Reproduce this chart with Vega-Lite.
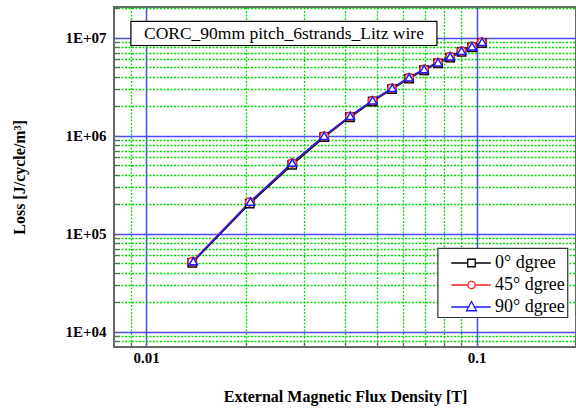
{
  "$schema": "https://vega.github.io/schema/vega-lite/v6.json",
  "width": 462,
  "height": 340,
  "autosize": {"type": "none"},
  "padding": {"left": 114, "top": 7, "right": 0, "bottom": 61},
  "background": "white",
  "config": {
    "view": {"stroke": "#666666", "strokeWidth": 2},
    "font": "Liberation Serif"
  },
  "datasets": {
    "loss": [
      {"series": "0° dgree", "x": 0.0138, "y": 50500},
      {"series": "0° dgree", "x": 0.0206, "y": 203000},
      {"series": "0° dgree", "x": 0.0277, "y": 505000},
      {"series": "0° dgree", "x": 0.0346, "y": 965000},
      {"series": "0° dgree", "x": 0.0414, "y": 1540000},
      {"series": "0° dgree", "x": 0.0485, "y": 2230000},
      {"series": "0° dgree", "x": 0.0555, "y": 2980000},
      {"series": "0° dgree", "x": 0.0625, "y": 3820000},
      {"series": "0° dgree", "x": 0.0694, "y": 4650000},
      {"series": "0° dgree", "x": 0.0765, "y": 5450000},
      {"series": "0° dgree", "x": 0.0832, "y": 6250000},
      {"series": "0° dgree", "x": 0.0901, "y": 7150000},
      {"series": "0° dgree", "x": 0.0969, "y": 7950000},
      {"series": "0° dgree", "x": 0.1038, "y": 8800000},
      {"series": "45° dgree", "x": 0.0138, "y": 52000},
      {"series": "45° dgree", "x": 0.0206, "y": 210000},
      {"series": "45° dgree", "x": 0.0277, "y": 525000},
      {"series": "45° dgree", "x": 0.0346, "y": 985000},
      {"series": "45° dgree", "x": 0.0414, "y": 1570000},
      {"series": "45° dgree", "x": 0.0485, "y": 2270000},
      {"series": "45° dgree", "x": 0.0555, "y": 3040000},
      {"series": "45° dgree", "x": 0.0625, "y": 3890000},
      {"series": "45° dgree", "x": 0.0694, "y": 4730000},
      {"series": "45° dgree", "x": 0.0765, "y": 5560000},
      {"series": "45° dgree", "x": 0.0832, "y": 6370000},
      {"series": "45° dgree", "x": 0.0901, "y": 7280000},
      {"series": "45° dgree", "x": 0.0969, "y": 8100000},
      {"series": "45° dgree", "x": 0.1038, "y": 9000000},
      {"series": "90° dgree", "x": 0.0139, "y": 52500},
      {"series": "90° dgree", "x": 0.0207, "y": 213000},
      {"series": "90° dgree", "x": 0.0277, "y": 530000},
      {"series": "90° dgree", "x": 0.0346, "y": 995000},
      {"series": "90° dgree", "x": 0.0415, "y": 1590000},
      {"series": "90° dgree", "x": 0.0485, "y": 2290000},
      {"series": "90° dgree", "x": 0.0556, "y": 3070000},
      {"series": "90° dgree", "x": 0.0625, "y": 3920000},
      {"series": "90° dgree", "x": 0.0694, "y": 4770000},
      {"series": "90° dgree", "x": 0.0765, "y": 5600000},
      {"series": "90° dgree", "x": 0.0832, "y": 6420000},
      {"series": "90° dgree", "x": 0.0901, "y": 7330000},
      {"series": "90° dgree", "x": 0.0969, "y": 8150000},
      {"series": "90° dgree", "x": 0.104, "y": 9050000}
    ],
    "box": [
      {"x": 0.009, "x2": 0.0759, "y": 8300000, "y2": 14600000}
    ],
    "legendbox": [
      {"x": 0.0764, "x2": 0.1888, "y": 14000, "y2": 70800}
    ],
    "label": [
      {"x": 0.02614, "y": 11000000, "text": "CORC_90mm pitch_6strands_Litz wire"}
    ]
  },
  "encoding": {
    "x": {
      "field": "x",
      "type": "quantitative",
      "title": "External Magnetic Flux Density [T]",
      "scale": {"type": "log", "domain": [0.008, 0.2], "nice": false},
      "axis": {
        "values": [0.009, 0.01, 0.02, 0.03, 0.04, 0.05, 0.06, 0.07, 0.08, 0.09, 0.1, 0.2],
        "labelExpr": "datum.value == 0.01 ? '0.01' : (datum.value == 0.1 ? '0.1' : '')",
        "domain": false,
        "grid": true,
        "gridColor": {"condition": {"test": "datum.value == 0.01 || datum.value == 0.1", "value": "#4a4aff"}, "value": "#00dd00"},
        "gridDash": {"condition": {"test": "datum.value == 0.01 || datum.value == 0.1", "value": []}, "value": [2, 1.5]},
        "gridWidth": {"condition": {"test": "datum.value == 0.01 || datum.value == 0.1", "value": 1.5}, "value": 1.3},
        "gridOpacity": 1,
        "ticks": true,
        "tickSize": -5,
        "tickWidth": 1.2,
        "tickColor": "#666666",
        "labelPadding": 8,
        "labelFont": "Liberation Serif",
        "labelFontWeight": "bold",
        "labelFontSize": 15,
        "labelColor": "black",
        "labelFlush": false,
        "labelOverlap": false,
        "titleFont": "Liberation Serif",
        "titleFontWeight": "bold",
        "titleFontSize": 16,
        "titleColor": "black",
        "titlePadding": 23
      }
    },
    "y": {
      "field": "y",
      "type": "quantitative",
      "title": "Loss [J/cycle/m³]",
      "scale": {"type": "log", "domain": [7000, 20500000], "nice": false},
      "axis": {
        "values": [8000, 9000, 10000, 20000, 30000, 40000, 50000, 60000, 70000, 80000, 90000, 100000, 200000, 300000, 400000, 500000, 600000, 700000, 800000, 900000, 1000000, 2000000, 3000000, 4000000, 5000000, 6000000, 7000000, 8000000, 9000000, 10000000, 20000000],
        "labelExpr": "abs(log(datum.value)/LN10 - round(log(datum.value)/LN10)) < 0.001 ? '1E+0' + round(log(datum.value)/LN10) : ''",
        "domain": false,
        "grid": true,
        "gridColor": {"condition": {"test": "abs(log(datum.value)/LN10 - round(log(datum.value)/LN10)) < 0.001", "value": "#4a4aff"}, "value": "#00dd00"},
        "gridDash": {"condition": {"test": "abs(log(datum.value)/LN10 - round(log(datum.value)/LN10)) < 0.001", "value": []}, "value": [2, 1.5]},
        "gridWidth": {"condition": {"test": "abs(log(datum.value)/LN10 - round(log(datum.value)/LN10)) < 0.001", "value": 1.5}, "value": 1.3},
        "gridOpacity": 1,
        "ticks": true,
        "tickSize": -5,
        "tickWidth": 1.2,
        "tickColor": "#666666",
        "labelPadding": 13,
        "labelFont": "Liberation Serif",
        "labelFontWeight": "bold",
        "labelFontSize": 15,
        "labelColor": "black",
        "labelFlush": false,
        "labelOverlap": false,
        "titleFont": "Liberation Serif",
        "titleFontWeight": "bold",
        "titleFontSize": 16,
        "titleColor": "black",
        "titlePadding": 37
      }
    }
  },
  "layer": [
    {
      "data": {"name": "loss"},
      "mark": {"type": "line", "strokeWidth": 1.5},
      "encoding": {
        "stroke": {
          "field": "series",
          "type": "nominal",
          "scale": {"domain": ["0° dgree", "45° dgree", "90° dgree"], "range": ["#000000", "#ff2020", "#1a1aff"]},
          "legend": null
        }
      }
    },
    {
      "data": {"name": "loss"},
      "transform": [{"filter": "datum.series === '0° dgree'"}],
      "mark": {"type": "point", "shape": "square", "filled": false, "fill": "white", "size": 70, "strokeWidth": 1.5, "opacity": 1},
      "encoding": {
        "stroke": {"field": "series", "type": "nominal", "legend": null}
      }
    },
    {
      "data": {"name": "loss"},
      "transform": [{"filter": "datum.series === '45° dgree'"}],
      "mark": {"type": "point", "shape": "circle", "filled": false, "fill": "white", "size": 70, "strokeWidth": 1.5, "opacity": 1},
      "encoding": {
        "stroke": {"field": "series", "type": "nominal", "legend": null}
      }
    },
    {
      "data": {"name": "loss"},
      "transform": [{"filter": "datum.series === '90° dgree'"}],
      "mark": {"type": "point", "shape": "triangle-up", "filled": false, "fill": "white", "size": 70, "strokeWidth": 1.5, "opacity": 1},
      "encoding": {
        "stroke": {"field": "series", "type": "nominal", "legend": null}
      }
    },
    {
      "data": {"name": "box"},
      "mark": {"type": "rect", "fill": "white", "stroke": "black", "strokeWidth": 1.2},
      "encoding": {
        "x2": {"field": "x2"},
        "y2": {"field": "y2"}
      }
    },
    {
      "data": {"name": "legendbox"},
      "mark": {"type": "rect", "fill": "white", "stroke": "#333333", "strokeWidth": 1.2},
      "encoding": {
        "x2": {"field": "x2"},
        "y2": {"field": "y2"}
      }
    },
    {
      "data": {"name": "label"},
      "mark": {"type": "text", "font": "Liberation Serif", "fontSize": 17.5, "color": "black", "align": "center", "baseline": "middle"},
      "encoding": {
        "text": {"field": "text", "type": "nominal"}
      }
    },
    {
      "data": {"name": "loss"},
      "transform": [{"filter": "false"}],
      "mark": {"type": "point", "filled": false, "color": "#000000", "strokeWidth": 1.3, "opacity": 1},
      "encoding": {
        "shape": {
          "field": "series",
          "type": "nominal",
          "scale": {"domain": ["0° dgree"], "range": ["M-0.15,0L3.15,0M4.65,0L7.75,0M3.15,-0.75L4.65,-0.75L4.65,0.75L3.15,0.75Z"]},
          "legend": {
            "title": null, "orient": "none", "legendX": 329, "legendY": 247, "padding": 0,
            "symbolSize": 100, "symbolStrokeWidth": 1.3, "symbolFillColor": "white", "symbolOpacity": 1,
            "labelFont": "Liberation Serif", "labelFontSize": 18, "labelColor": "black", "labelOffset": 34
          }
        }
      }
    },
    {
      "data": {"name": "loss"},
      "transform": [{"filter": "false"}],
      "mark": {"type": "point", "filled": false, "color": "#ff2020", "strokeWidth": 1.3, "opacity": 1},
      "encoding": {
        "shape": {
          "field": "series",
          "type": "nominal",
          "scale": {"domain": ["45° dgree"], "range": ["M-0.15,0L3.18,0M4.62,0L7.75,0M4.62,0A0.72,0.72 0 1,1 3.18,0A0.72,0.72 0 1,1 4.62,0Z"]},
          "legend": {
            "title": null, "orient": "none", "legendX": 329, "legendY": 269, "padding": 0,
            "symbolSize": 100, "symbolStrokeWidth": 1.3, "symbolFillColor": "white", "symbolOpacity": 1,
            "labelFont": "Liberation Serif", "labelFontSize": 18, "labelColor": "black", "labelOffset": 34
          }
        }
      }
    },
    {
      "data": {"name": "loss"},
      "transform": [{"filter": "false"}],
      "mark": {"type": "point", "filled": false, "color": "#1a1aff", "strokeWidth": 1.3, "opacity": 1},
      "encoding": {
        "shape": {
          "field": "series",
          "type": "nominal",
          "scale": {"domain": ["90° dgree"], "range": ["M-0.15,0L3.5,0M4.3,0L7.75,0M2.9,0.75L3.9,-1.1L4.9,0.75Z"]},
          "legend": {
            "title": null, "orient": "none", "legendX": 329, "legendY": 291, "padding": 0,
            "symbolSize": 100, "symbolStrokeWidth": 1.3, "symbolFillColor": "white", "symbolOpacity": 1,
            "labelFont": "Liberation Serif", "labelFontSize": 18, "labelColor": "black", "labelOffset": 34
          }
        }
      }
    }
  ],
  "resolve": {"scale": {"shape": "independent"}}
}
